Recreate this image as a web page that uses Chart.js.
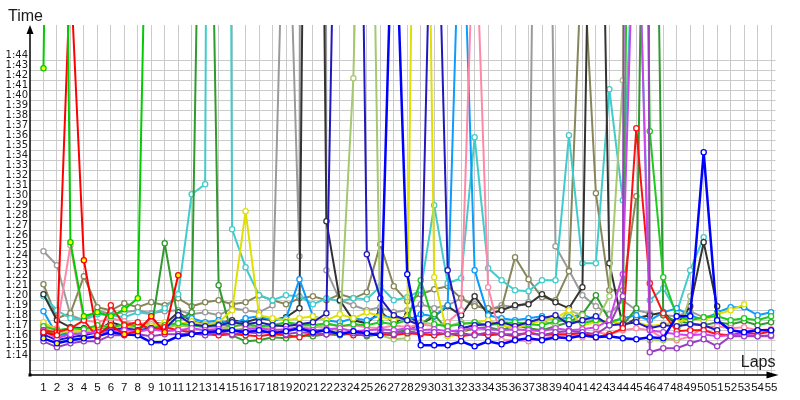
<!DOCTYPE html>
<html>
<head>
<meta charset="utf-8">
<script src="https://cdn.jsdelivr.net/npm/chart.js@4.4.1/dist/chart.umd.min.js"></script>
<style>
html, body { margin: 0; padding: 0; background: #fff; }
#wrap { width: 800px; height: 400px; }
</style>
</head>
<body>
<div id="wrap"><canvas id="laps"></canvas></div>
<script>
// lap numbers (x) and lap time tick labels (y)
var laps = [1,2,3,4,5,6,7,8,9,10,11,12,13,14,15,16,17,18,19,20,21,22,23,24,25,26,27,28,29,30,
	31,32,33,34,35,36,37,38,39,40,41,42,43,44,45,46,47,48,49,50,51,52,53,54,55];
var timeLabels = ["1:14","1:15","1:16","1:17","1:18","1:19","1:20","1:21","1:22","1:23","1:24",
	"1:25","1:26","1:27","1:28","1:29","1:30","1:31","1:32","1:33","1:34","1:35","1:36","1:37",
	"1:38","1:39","1:40","1:41","1:42","1:43","1:44"];

// lap times in seconds, one array per driver
var green = [103.2,203,85.8,78.4,78.8,78.4,79.1,80.2,147];
var redA = [76.8,76.5,113,84.0,76.5,77.5,76.6,76.9,78.4,76.8,82.5];
var redB = [77.0,76.8,77.2,78.0,76.3, 79.5,77.5,77.8,77.0,77.3, 77.0,76.8,76.6,76.5,76.6,
	76.5,76.4,76.6,76.5,76.3, 76.7,76.6,76.8,76.5,76.6, 76.6,76.5,76.7,76.6,76.5,
	76.7,76.4,76.6,76.5,76.6, 76.4,76.8,76.5,76.6,76.6, 76.7,76.3,76.6,77.2,97.2,
	81.7,78.7,76.9,77.0,77.0, 76.6,76.5,76.8,76.6,76.9];
var pink = [77.6,77.2,85.5,78.0,77.8, 78.2,77.9,77.6,77.8,77.5, 77.4,77.6,77.3,77.2,77.4,
	77.5,77.3,77.1,77.0,77.3, 77.2,77.6,77.4,77.5,77.3, 77.2,77.5,77.3,77.6,77.4,
	77.8,79.0,121,81.3,76.0, 76.0,75.9,76.2,76.4,76.5, 76.3,76.8,76.6,77.0,77.2,
	77.0,76.2,76.0,76.4,77.3, 77.4,77.2,77.3,77.0,77.1];
var gray = [84.9,83.5,78.5,78.0,79.0, 78.6,78.8,79.0,78.7,78.9, 79.0,78.6,78.8,78.5,79.2,
	79.0,78.8,79.5,130,84.4, 1000,83.0,80.0,79.5,79.0, 79.3,78.8,79.0,79.6,79.2,
	79.5,80.2,79.6,79.0,79.5, 79.3,79.8,190,85.4,83.0, 80.5,79.4,78.6,80.0,79.0,
	78.7,78.5,78.4,78.9,78.3, 78.6];
var olive = [81.6,78.2,78.7,82.4,79.3, 79.0,79.7,79.3,79.8,79.5, 80.2,79.4,79.8,80.0,79.6,
	79.8,80.5,80.0,79.6,80.2, 80.4,80.0,80.6,80.2,80.8, 85.6,81.4,79.9,80.6,81.1,
	81.4,80.2,79.4,79.2,79.2, 84.3,82.1,80.3,80.0,82.9, 116,90.7,81.0,81.0,90.4];
var darkGray = [80.6,78.0,77.3,77.2,77.0, 77.8,77.4,77.5,77.8,77.6, 78.8,77.9,77.6,77.7,78.0,
	77.8,78.2,78.0,78.3,79.2, 220,87.9,80.0,78.0,77.7, 78.9,77.7,78.5,77.6,78.4,
	79.4,78.5,80.4,78.6,79.0, 79.5,79.6,80.6,79.8,79.2, 81.3,160,83.7,77.4,78.2,
	78.5,78.8,77.5,79.4,85.8, 79.4];
var cyan = [80.4,79.0,78.2,78.0,78.6, 78.5,78.3,78.8,78.6,79.2, 80.6,90.6,91.6,400,87.1,
	83.3,80.5,80.0,80.5,80.4, 79.6,80.2,79.9,80.2,80.1, 81.4,80.0,80.3,81.0,89.5,
	81.7,82.2,96.3,83.2,82.0, 81.0,80.9,82.0,82.0,96.5, 83.7,83.7,101.1,90.0,125,
	80.0,81.2,78.8,83.0,86.3];
var lightBlue = [78.9,76.5,76.6,76.7,76.8, 77.0,77.2,77.5,77.3,77.0, 78.5,78.2,77.8,78.0,77.6,
	78.2,78.4,78.0,78.2,82.1, 78.4,78.0,77.8,78.2,78.0, 78.5,78.2,78.0,78.6,78.4,
	79.5,125,83.0,78.5,78.2, 78.0,78.2,78.4,78.0,78.3, 78.6,78.0,77.8,78.2,78.5,
	78.0,78.8,79.2,78.5,78.0, 78.8,79.3,79.3,78.5,78.8];
var yellow = [77.8,77.0,76.8,77.0,77.3, 77.5,77.2,77.6,77.4,77.8, 77.6,77.9,77.5,77.8,79.0,
	88.9,78.5,78.2,78.0,78.2, 78.4,78.0,78.6,78.2,78.8, 78.4,78.0,78.3,180,82.3,
	76.4,76.6,77.8,78.0,77.5, 77.2,77.6,78.0,78.2,79.0, 77.5,77.8,78.0,77.6,77.8,
	77.4,77.6,77.8,78.2,78.0, 78.6,79.0,79.6];
var blue = [76.2,75.7,76.0,76.2,76.4, 76.8,76.6,76.5,75.8,75.8, 76.4,76.6,76.8,76.9,77.0,
	76.8,77.0,76.7,76.9,77.2, 76.8,77.0,76.6,76.9,76.7, 76.5,124,82.6,75.5,75.5,
	75.5,75.9,75.4,75.9,75.6, 76.0,76.2,76.0,76.3,76.2, 76.5,76.3,76.4,76.2,76.1,
	76.3,76.2,78.4,78.4,94.8, 78.0,77.0,76.8,77.0,77.0];
var darkBlue = [76.6,76.0,76.3,76.5,76.8, 77.0,77.2,77.0,77.2,77.1, 78.5,77.6,77.4,77.5,77.8,
	77.6,77.8,77.5,77.4,77.6, 77.8,78.7,150,184,84.6, 80.2,78.5,78.0,77.5,135,
	83.0,77.2,77.5,77.6,77.8, 77.4,77.8,78.2,78.5,77.6, 78.0,78.4,77.5,77.6,77.8,
	77.2,77.5,77.4,77.6,77.5, 77.0];
var lightGreen = [77.3,76.6,77.0,76.8,77.2, 77.4,77.0,77.3,77.6,77.2, 77.5,77.3,77.6,77.4,77.0,
	77.2,77.5,77.3,77.6,77.4, 77.5,77.2,77.0,102.2,160, 76.5,76.1,76.2,77.8,77.6,
	77.4,77.8,77.6,77.5,77.9, 77.6,77.8,78.0,77.5,79.0, 78.5,77.8,80.4,102,450,
	76.0,76.0,76.2,80.4];
var purple = [75.9,75.3,75.7,75.9,75.9, 76.5,76.5,76.6,76.4,76.6, 76.6,76.7,76.5,76.8,76.6,
	76.8,76.7,76.9,76.6,76.8, 76.7,76.6,76.8,76.7,76.5, 76.8,76.6,76.9,76.7,76.8,
	76.6,76.7,76.5,76.8,76.6, 76.6,76.7,76.5,76.8,76.9, 76.8,76.6,77.5,80.4,500,
	74.8,75.2,75.2,75.7,76.1, 75.4,76.4,76.4,76.4,76.5];
var magenta = [76.9,76.2,76.6,76.7,76.8, 76.9,77.0,76.9,77.1,76.9, 77.0,77.2,77.0,77.1,76.9,
	77.1,77.2,77.0,77.1,77.3, 77.0,77.1,77.2,76.9,77.0, 77.1,77.0,77.2,77.0,77.1,
	76.9,77.0,77.2,77.1,77.0, 77.1,77.0,76.9,77.2,77.0, 77.1,77.3,78.0,82.6,127,
	77.0,76.8,76.6,76.5,76.6, 76.4,76.5,76.6,76.4,76.4];
var darkGreen = [77.0,76.6,76.8,77.0,77.3, 77.0,77.2,76.9,77.1,85.7, 78.0,78.8,160,81.5,76.5,
	75.9,76.0,76.3,76.2,76.5, 76.4,76.6,76.5,76.7,76.4, 76.6,76.8,77.0,77.6,78.6,
	77.0,76.8,77.2,77.3,77.0, 77.5,77.2,77.0,77.4,77.8, 78.6,80.5,78.0,77.5,79.2,
	173,78.5,77.9,77.7,77.5, 77.8,77.6,77.9,77.5,77.8];
var green2 = [77.4,77.0,77.2,77.1,77.5, 77.3,77.6,77.4,77.2,77.5, 77.7,77.5,77.3,77.6,77.4,
	77.6,77.4,77.5,77.8,77.6, 77.5,77.7,77.4,77.6,77.5, 77.8,77.6,78.0,82.0,77.6,
	77.4,77.6,77.8,77.5,77.7, 77.8,77.6,77.5,77.9,78.0, 77.7,78.0,77.8,78.2,200,
	96.9,82.3,78.4,78.0,78.3, 78.4,78.0,78.2,78.0,78.4];

// laps where the marker is filled yellow
var greenYellowLaps = [1,2,3,4,5,6,7,8];
var redAYellowLaps = [4,6,7,8,9,10,11];
var blueYellowLaps = [1,2,3,4];

var drivers = [
	{ data: green, color: "#00cc00", yellowLaps: greenYellowLaps },
	{ data: redA, color: "#ff0000", yellowLaps: redAYellowLaps },
	{ data: blue, color: "#0000ff", yellowLaps: blueYellowLaps, width: 2.5 },
	{ data: purple, color: "#9a3fbf" },
	{ data: magenta, color: "#cc44ee" },
	{ data: redB, color: "#ff1010" },
	{ data: darkBlue, color: "#2218c0" },
	{ data: green2, color: "#20c820" },
	{ data: yellow, color: "#e0e000" },
	{ data: lightGreen, color: "#a6c86e" },
	{ data: pink, color: "#ff88a8" },
	{ data: darkGreen, color: "#2f9a2f" },
	{ data: lightBlue, color: "#0a9cff" },
	{ data: darkGray, color: "#333333" },
	{ data: cyan, color: "#40cccc" },
	{ data: olive, color: "#86865a" },
	{ data: gray, color: "#9a9a9a" }
];

function toPoints(vals) {
	var out = [];
	for (var i = 0; i < vals.length; i++) {
		if (vals[i] != null) out.push({ x: laps[i], y: vals[i] });
	}
	return out;
}

var timeValues = timeLabels.map(function(t) { return 60 + parseInt(t.split(":")[1], 10); });

var datasets = drivers.map(function(d) {
	var yl = d.yellowLaps || [];
	return {
		data: toPoints(d.data),
		borderColor: d.color,
		borderWidth: d.width || 2,
		pointRadius: 2.6,
		pointBorderWidth: 1.3,
		pointHoverRadius: 2.6,
		pointBorderColor: d.color,
		pointBackgroundColor: function(ctx) {
			return ctx.raw && yl.indexOf(ctx.raw.x) >= 0 ? "#ffff00" : "#ffffff";
		},
		tension: 0,
		fill: false
	};
});

// axis lines with arrows and the two axis names
var axesPlugin = {
	id: "axes",
	afterDraw: function(chart) {
		var c = chart.ctx, a = chart.chartArea;
		c.save();
		c.strokeStyle = "#000";
		c.fillStyle = "#000";
		c.lineWidth = 1.5;
		c.beginPath();
		c.moveTo(a.left, a.bottom);
		c.lineTo(a.left, a.top + 4);
		c.moveTo(a.left, a.bottom);
		c.lineTo(a.right - 4, a.bottom);
		c.stroke();
		c.beginPath();
		c.moveTo(a.left, a.top);
		c.lineTo(a.left - 3.5, a.top + 9);
		c.lineTo(a.left + 3.5, a.top + 9);
		c.closePath();
		c.fill();
		c.beginPath();
		c.moveTo(a.right + 3, a.bottom);
		c.lineTo(a.right - 9, a.bottom - 3.5);
		c.lineTo(a.right - 9, a.bottom + 3.5);
		c.closePath();
		c.fill();
		c.fillRect(a.left - 1.5, a.bottom - 1.5, 3, 3);
		c.font = "16px 'Liberation Sans'";
		c.fillStyle = "#1a1a1a";
		c.textBaseline = "alphabetic";
		c.textAlign = "left";
		c.fillText("Time", 8, 20.5);
		c.textAlign = "right";
		c.fillText("Laps", a.right, a.bottom - 8);
		c.restore();
	}
};

new Chart(document.getElementById("laps"), {
	type: "line",
	data: { datasets: datasets },
	plugins: [axesPlugin],
	options: {
		responsive: true,
		maintainAspectRatio: false,
		animation: false,
		events: [],
		layout: { padding: { top: 25, right: 24.5, left: 0, bottom: 0 } },
		plugins: { legend: { display: false }, tooltip: { enabled: false } },
		scales: {
			x: {
				type: "linear",
				min: 0,
				max: 55.33,
				afterBuildTicks: function(s) {
					s.ticks = laps.map(function(v) { return { value: v }; });
				},
				afterFit: function(s) { s.height = 25; },
				ticks: {
					autoSkip: false,
					maxRotation: 0,
					padding: 6,
					color: "#111",
					font: { family: "Liberation Sans", size: 11.5 },
					callback: function(v) { return String(v); }
				},
				grid: { color: "#cbcbcb", lineWidth: 1, drawTicks: false },
				border: { display: false }
			},
			y: {
				type: "linear",
				min: 72.53,
				max: 107.53,
				afterBuildTicks: function(s) {
					var t = [{ value: 73 }];
					timeValues.forEach(function(v) { t.push({ value: v }); });
					s.ticks = t;
				},
				afterFit: function(s) { s.width = 30; },
				ticks: {
					autoSkip: false,
					padding: 2,
					labelOffset: -5,
					color: "#1a1a1a",
					font: { family: "DejaVu Sans", size: 10 },
					callback: function(v) {
						var i = timeValues.indexOf(v);
						return i < 0 ? "" : timeLabels[i];
					}
				},
				grid: { color: "#cbcbcb", lineWidth: 1, drawTicks: false },
				border: { display: false }
			}
		}
	}
});
</script>
</body>
</html>
